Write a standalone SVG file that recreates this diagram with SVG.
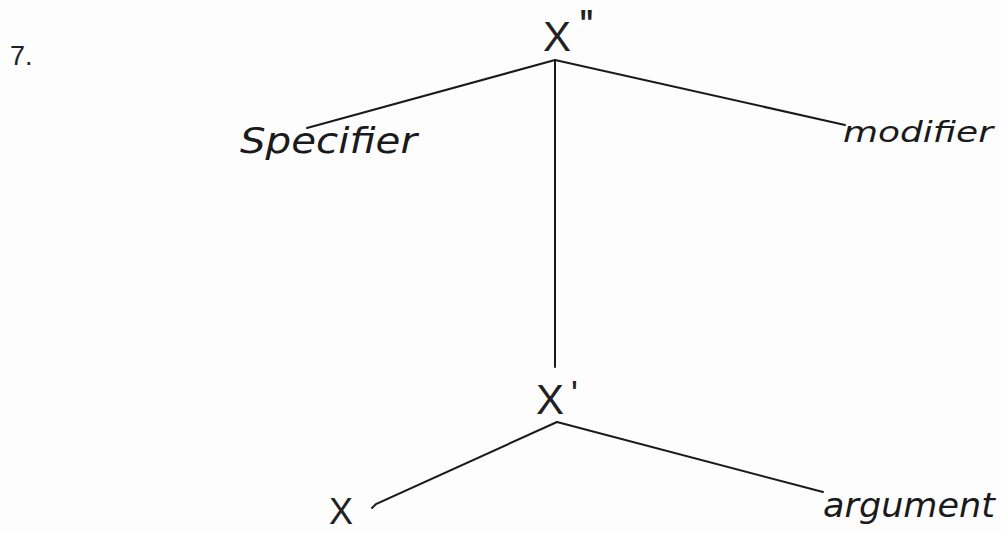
<svg xmlns="http://www.w3.org/2000/svg" width="1001" height="533" viewBox="0 0 1001 533">
<style>
.edge{stroke:#1a1a1a;stroke-width:2;fill:none;stroke-linecap:round}
.cat{font-family:"Liberation Sans",Arial,sans-serif;fill:#222;font-weight:normal}
.hand{font-family:"DejaVu Sans","Liberation Sans",sans-serif;font-style:italic;fill:#1a1a1a}
</style>
<rect width="1001" height="533" fill="#fdfdfd"/>
<text id="num" class="cat" x="10" y="65" font-size="27">7.</text>
<g id="connectors">
<line class="edge" x1="555" y1="60" x2="307" y2="128"/>
<line class="edge" x1="555" y1="60" x2="845" y2="125"/>
<line class="edge" x1="555" y1="60" x2="555" y2="367"/>
<line class="edge" x1="557" y1="422" x2="823" y2="492"/>
<path class="edge" d="M557 422 L376 504 L372 508"/>
</g>
<g id="xbarbar">
<text class="cat" x="543" y="51" font-size="42">X</text>
<text class="cat" x="579" y="41" font-size="44" letter-spacing="-2">''</text>
</g>
<g id="specifier">
<text class="hand" x="240" y="153" font-size="35" textLength="177" lengthAdjust="spacingAndGlyphs">Specifier</text>
</g>
<g id="modifier">
<text class="hand" x="843" y="142" font-size="29" textLength="150" lengthAdjust="spacingAndGlyphs">modifier</text>
</g>
<g id="xbar">
<text class="cat" x="536" y="414" font-size="42">X</text>
<text class="cat" x="571" y="407" font-size="36">'</text>
</g>
<g id="x">
<text class="cat" x="329" y="524" font-size="36">X</text>
</g>
<g id="argument">
<text class="hand" x="823" y="517" font-size="33" textLength="172" lengthAdjust="spacingAndGlyphs">argument</text>
</g>
</svg>
